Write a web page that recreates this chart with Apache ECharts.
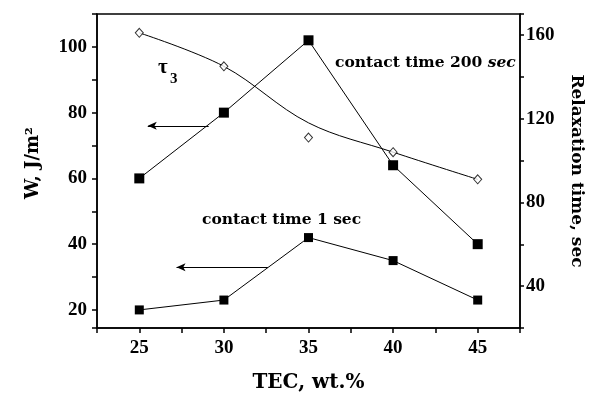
<!DOCTYPE html>
<html>
<head>
<meta charset="utf-8">
<script src="https://cdn.jsdelivr.net/npm/echarts@6/dist/echarts.min.js"></script>
<style>
  html, body { margin: 0; padding: 0; background: #fff; }
  #chart { width: 593px; height: 398px; }
</style>
</head>
<body>
<div id="chart"></div>
<script>
// TEC content, wt.%
var tec = [25, 30, 35, 40, 45];
// work of adhesion W, J/m2
var w200 = [60, 80, 102, 64, 40];
var w1 = [20, 23, 42, 35, 23];
// relaxation time tau3, sec (points and the drawn fit curve)
var tau3 = [161, 145, 111, 104, 91];
var tau3Fit = [161, 145, 118, 104, 91];

var leftLabels = [20, 40, 60, 80, 100];
var rightLabels = [40, 80, 120, 160];
var xLabels = [25, 30, 35, 40, 45];

function pairs(xs, ys) {
    return xs.map(function (x, i) { return [x, ys[i]]; });
}

var serif = '"Liberation Serif", "Times New Roman", serif';
var wide = '"DejaVu Serif", serif';
var tickFont = { fontFamily: serif, fontWeight: 'bold', fontSize: 19, color: '#000' };
var annot = { fontFamily: wide, fontWeight: 'bold', fontSize: 15.5, fill: '#000' };

var arrow = function (from, to) {
    return {
        silent: true,
        symbol: ['arrow', 'none'],
        symbolSize: [6, 9],
        label: { show: false },
        lineStyle: { color: '#000', width: 1, type: 'solid' },
        data: [[{ coord: from }, { coord: to }]]
    };
};

echarts.init(document.getElementById('chart')).setOption({
    animation: false,
    grid: {
        left: 97,
        right: 64,
        top: 14,
        bottom: 67,
        show: true,
        borderColor: '#000',
        borderWidth: 1.5
    },
    xAxis: {
        type: 'value',
        min: 22.5,
        max: 47.5,
        interval: 2.5,
        name: 'TEC, wt.%',
        nameLocation: 'middle',
        nameGap: 45,
        nameTextStyle: { fontFamily: wide, fontWeight: 'bold', fontSize: 20, color: '#000' },
        axisLine: { lineStyle: { color: '#000', width: 1.5 } },
        axisTick: { length: 5, lineStyle: { color: '#000', width: 1.5 } },
        axisLabel: Object.assign({
            margin: 11,
            formatter: function (v) { return xLabels.indexOf(v) >= 0 ? String(v) : ''; }
        }, tickFont),
        splitLine: { show: false }
    },
    yAxis: [
        {
            type: 'value',
            min: 14.5,
            max: 110,
            splitNumber: 10,
            name: 'W, J/m²',
            nameLocation: 'middle',
            nameGap: 55,
            nameTextStyle: { fontFamily: wide, fontWeight: 'bold', fontSize: 18, color: '#000', padding: [0, 0, 0, 16] },
            axisLine: { show: true, lineStyle: { color: '#000', width: 1.5 } },
            axisTick: { show: true, length: 5, lineStyle: { color: '#000', width: 1.5 } },
            axisLabel: Object.assign({
                margin: 10,
                formatter: function (v) { return leftLabels.indexOf(v) >= 0 ? String(v) : ''; }
            }, tickFont),
            splitLine: { show: false }
        },
        {
            type: 'value',
            min: 20,
            max: 170,
            interval: 20,
            position: 'right',
            name: 'Relaxation time, sec',
            nameLocation: 'middle',
            nameRotate: -90,
            nameGap: 48,
            nameTextStyle: { fontFamily: wide, fontWeight: 'bold', fontSize: 17, color: '#000' },
            axisLine: { show: true, lineStyle: { color: '#000', width: 1.5 } },
            axisTick: { show: true, length: 4, lineStyle: { color: '#000', width: 1.5 } },
            axisLabel: Object.assign({
                margin: 6,
                formatter: function (v) { return rightLabels.indexOf(v) >= 0 ? String(v) : ''; }
            }, tickFont),
            splitLine: { show: false }
        }
    ],
    series: [
        {
            name: 'contact time 200 sec',
            type: 'line',
            yAxisIndex: 0,
            symbol: 'rect',
            symbolSize: 10,
            itemStyle: { color: '#000' },
            lineStyle: { color: '#000', width: 1 },
            data: pairs(tec, w200),
            markLine: arrow([25.5, 76], [29.1, 76])
        },
        {
            name: 'contact time 1 sec',
            type: 'line',
            yAxisIndex: 0,
            symbol: 'rect',
            symbolSize: 9,
            itemStyle: { color: '#000' },
            lineStyle: { color: '#000', width: 1 },
            data: pairs(tec, w1),
            markLine: arrow([27.2, 33], [32.6, 33])
        },
        {
            name: 'tau3 fit',
            type: 'line',
            yAxisIndex: 1,
            smooth: 0.35,
            symbol: 'none',
            lineStyle: { color: '#000', width: 1 },
            data: pairs(tec, tau3Fit)
        },
        {
            name: 'tau3',
            type: 'scatter',
            yAxisIndex: 1,
            symbol: 'diamond',
            symbolSize: [8, 9],
            itemStyle: { color: '#fff', borderColor: '#000', borderWidth: 1 },
            data: pairs(tec, tau3),
            z: 5
        }
    ],
    graphic: [
        {
            type: 'text', left: 335, top: 55,
            style: {
                text: 'contact time 200 {i|sec}',
                fontFamily: wide, fontWeight: 'bold', fontSize: 15.5, fill: '#000',
                rich: { i: { fontFamily: wide, fontWeight: 'bold', fontStyle: 'italic', fontSize: 15.5 } }
            }
        },
        {
            type: 'text', left: 202, top: 212,
            style: Object.assign({ text: 'contact time 1 sec' }, annot)
        },
        {
            type: 'text', left: 158, top: 57,
            style: { text: 'τ', fontFamily: serif, fontWeight: 'bold', fontSize: 21, fill: '#000' }
        },
        {
            type: 'text', left: 170, top: 72,
            style: { text: '3', fontFamily: serif, fontWeight: 'bold', fontSize: 15, fill: '#000' }
        }
    ]
});
</script>
</body>
</html>
